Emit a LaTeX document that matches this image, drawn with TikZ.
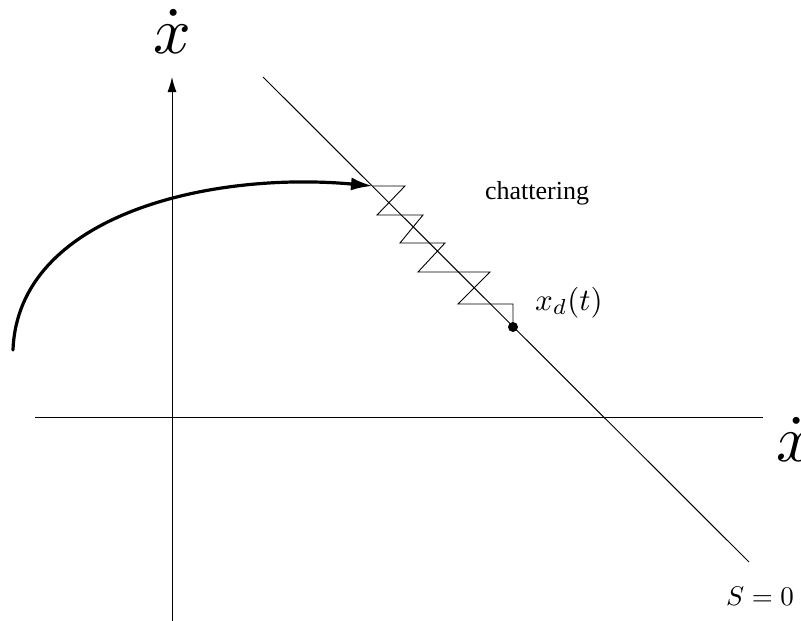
\documentclass[tikz,border=0pt]{standalone}
\usepackage{graphicx}
\usepackage{fontspec}
\setmainfont{Liberation Serif}
\usetikzlibrary{arrows.meta}
\begin{document}
\begin{tikzpicture}[x=1pt,y=-1pt,
  axisline/.style={line width=1pt,draw=black},
  zigline/.style={line width=0.9pt,draw=black,line join=miter},
  trajline/.style={line width=3.2pt,draw=black,line cap=round},
  lbl/.style={inner sep=0pt,anchor=base}]
\useasboundingbox (0,0) rectangle (801,621);
% axes
\coordinate (ybot) at (172,621);
\coordinate (ytop) at (172,77);
\coordinate (xl) at (35,417);
\coordinate (xr) at (763,417);
\draw[axisline,-{Latex[length=15pt,width=9pt]}] (ybot) -- (ytop);
\draw[axisline] (xl) -- (xr);
% sliding line s = 0
\coordinate (sTop) at (263,77);
\coordinate (sBot) at (749,562);
\draw[axisline] (sTop) -- (sBot);
% trajectory
\coordinate (start) at (13,350);
\coordinate (hit) at (373,186);
\draw[trajline,-{Latex[length=22pt,width=13pt]}] (start) .. controls (18,215) and (210,171) .. (hit);
% chattering zigzag
\node[circle,fill=black,inner sep=0pt,minimum size=10pt] (xd) at (513,327) {};
\draw[zigline] (hit) -- (405,186) -- (377,215) -- (423,215) -- (400,243) -- (445,243)
  -- (418,272) -- (490,272) -- (458,304) -- (513,304) -- (xd.center);
% labels
\node[lbl] (ylab) at (172,53) {\scalebox{6.6}{$\dot{x}$}};
\node[lbl] (xlab) at (795,461) {\scalebox{6.6}{$\dot{x}$}};
\node[lbl,font=\fontsize{26}{26}\selectfont] (chat) at (537,199) {chattering};
\node[lbl,anchor=base west] (xdlab) at (535,310) {\scalebox{3.1}{$x_{d}(t)$}};
\node[lbl] (slab) at (760,605) {\scalebox{2.7}{$S=0$}};
\end{tikzpicture}
\end{document}
